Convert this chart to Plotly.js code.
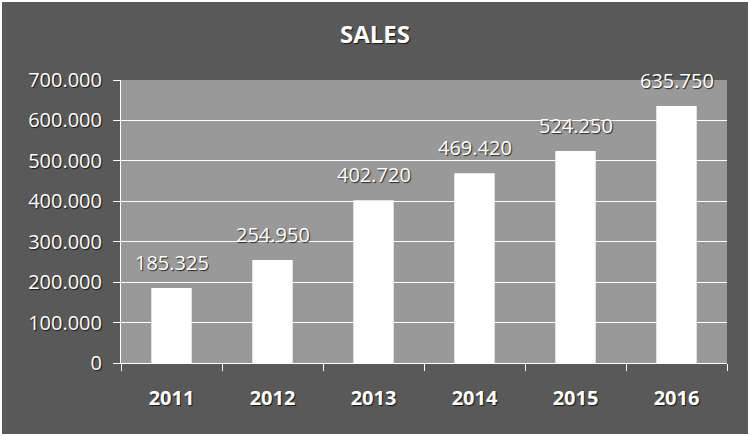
<!DOCTYPE html>
<html>
<head>
<meta charset="utf-8">
<script src="https://cdn.plot.ly/plotly-3.0.1.min.js"></script>
<style>
  html, body { margin: 0; padding: 0; background: #ffffff; }
  #chart { position: absolute; left: 2px; top: 2px; width: 746px; height: 432px; }
</style>
</head>
<body>
<div id="chart"></div>
<script>
const chartTitle = "SALES";
const years = ["2011", "2012", "2013", "2014", "2015", "2016"];
const sales = [185325, 254950, 402720, 469420, 524250, 635750];
const yTickValues = [0, 100000, 200000, 300000, 400000, 500000, 600000, 700000];

const shadow = "1px 1px 1px rgba(0,0,0,0.75)";

const trace = {
  type: "bar",
  x: years,
  y: sales,
  marker: { color: "#ffffff", line: { width: 0 } },
  hoverinfo: "none"
};

const annotations = years.map((yr, i) => ({
  x: i,
  y: sales[i],
  xref: "x",
  yref: "y",
  text: sales[i].toLocaleString("de-DE"),
  showarrow: false,
  yanchor: "bottom",
  yshift: 10,
  font: { family: "Open Sans", size: 20, color: "#ffffff", shadow: shadow }
}));

const layout = {
  width: 746,
  height: 432,
  paper_bgcolor: "#595959",
  plot_bgcolor: "#999999",
  separators: ",.",
  showlegend: false,
  bargap: 0.6,
  margin: { l: 119, r: 21, t: 77.5, b: 71, pad: 0 },
  title: {
    text: "<b>" + chartTitle + "</b>",
    x: 0.5,
    xanchor: "center",
    y: 0.925,
    yanchor: "middle",
    font: { family: "Open Sans", size: 24, color: "#ffffff", shadow: shadow }
  },
  xaxis: {
    type: "category",
    categoryorder: "array",
    categoryarray: years,
    range: [-0.5, years.length - 0.5],
    showgrid: false,
    showline: true,
    linecolor: "#ffffff",
    linewidth: 1,
    ticks: "outside",
    tickson: "boundaries",
    ticklen: 7,
    tickcolor: "#ffffff",
    tickwidth: 1,
    ticklabelstandoff: 17,
    tickangle: 0,
    tickfont: { family: "Open Sans", size: 20, color: "#ffffff", weight: "bold", shadow: shadow }
  },
  yaxis: {
    range: [0, 700000],
    tickvals: yTickValues,
    tickformat: ",d",
    showgrid: true,
    gridcolor: "#ffffff",
    gridwidth: 1,
    showline: true,
    linecolor: "#ffffff",
    linewidth: 1,
    zeroline: false,
    ticks: "outside",
    ticklen: 7,
    tickcolor: "#ffffff",
    tickwidth: 1,
    ticklabelstandoff: 7,
    tickfont: { family: "Open Sans", size: 20, color: "#ffffff", shadow: shadow }
  },
  annotations: annotations
};

Plotly.newPlot("chart", [trace], layout, { displayModeBar: false, staticPlot: true });
</script>
</body>
</html>
